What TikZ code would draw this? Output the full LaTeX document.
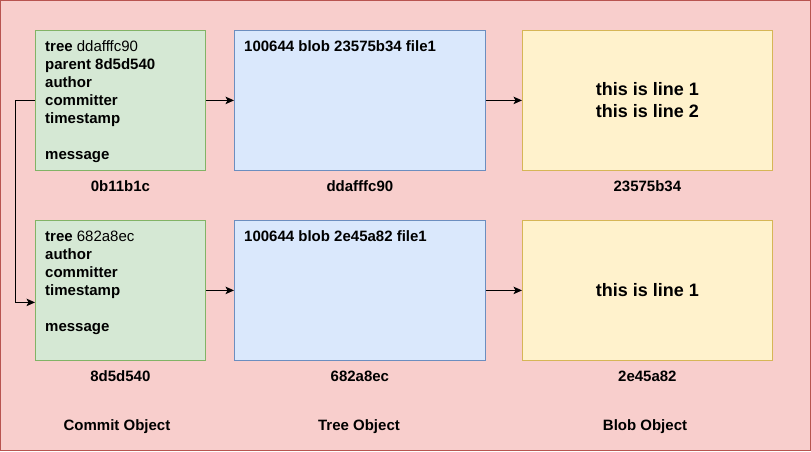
\documentclass[tikz,border=0pt]{standalone}
\usepackage{fontspec}
\setmainfont{Liberation Sans}
\usetikzlibrary{arrows.meta}
\definecolor{bgfill}{HTML}{F8CECC}
\definecolor{bgline}{HTML}{B85450}
\definecolor{commitfill}{HTML}{D5E8D4}
\definecolor{commitline}{HTML}{82B366}
\definecolor{treefill}{HTML}{DAE8FC}
\definecolor{treeline}{HTML}{6C8EBF}
\definecolor{blobfill}{HTML}{FFF2CC}
\definecolor{blobline}{HTML}{D6B656}
\begin{document}
\begin{tikzpicture}[x=1pt,y=-1pt,
    objbox/.style={draw,line width=0.8pt,anchor=north west,inner sep=0pt},
    commitbox/.style={objbox,fill=commitfill,draw=commitline,minimum width=170pt,minimum height=140pt},
    treebox/.style={objbox,fill=treefill,draw=treeline,minimum width=251pt,minimum height=140pt},
    blobbox/.style={objbox,fill=blobfill,draw=blobline,minimum width=250pt,minimum height=140pt},
    boxtext/.style={anchor=north west,inner sep=0pt,align=left,font=\fontsize{15}{18}\selectfont\bfseries},
    blobtext/.style={align=center,inner sep=0pt,font=\fontsize{18}{22}\selectfont\bfseries},
    idlabel/.style={anchor=base,inner sep=0pt,font=\fontsize{15}{18}\selectfont\bfseries},
    conn/.style={draw,line width=0.9pt,-{Stealth[length=8.5pt,width=7.5pt,inset=2pt]}}]
    \useasboundingbox (0,0) rectangle (811,451);
    \draw[fill=bgfill,draw=bgline,line width=1pt] (0.5,0.5) rectangle (810.5,450.5);
    % first commit row
    \node[commitbox] (c1) at (35,30) {};
    \node[treebox] (t1) at (234,30) {};
    \node[blobbox] (b1) at (522,30) {};
    \node[boxtext] at ([xshift=10pt,yshift=-10.5pt]c1.north west)
        {tree \mdseries ddafffc90\\parent 8d5d540\\author\\committer\\timestamp\\[18pt]message};
    \node[boxtext] at ([xshift=10pt,yshift=-10.5pt]t1.north west) {100644 blob 23575b34 file1};
    \node[blobtext] at (b1.center) {this is line 1\\this is line 2};
    % second commit row
    \node[commitbox] (c2) at (35,220) {};
    \node[treebox] (t2) at (234,220) {};
    \node[blobbox] (b2) at (522,220) {};
    \node[boxtext] at ([xshift=10pt,yshift=-10.5pt]c2.north west)
        {tree \mdseries 682a8ec\\author\\committer\\timestamp\\[18pt]message};
    \node[boxtext] at ([xshift=10pt,yshift=-10.5pt]t2.north west) {100644 blob 2e45a82 file1};
    \node[blobtext] at (b2.center) {this is line 1};
    % hashes
    \node[idlabel] (c1id) at ([yshift=-20.5pt]c1.south) {0b11b1c};
    \node[idlabel] (t1id) at ([yshift=-20.5pt]t1.south) {ddafffc90};
    \node[idlabel] (b1id) at ([yshift=-20.5pt]b1.south) {23575b34};
    \node[idlabel] (c2id) at ([yshift=-20.5pt]c2.south) {8d5d540};
    \node[idlabel] (t2id) at ([yshift=-20.5pt]t2.south) {682a8ec};
    \node[idlabel] (b2id) at ([yshift=-20.5pt]b2.south) {2e45a82};
    % connectors
    \draw[conn] (c1.east) -- (t1.west);
    \draw[conn] (t1.east) -- (b1.west);
    \draw[conn] (c2.east) -- (t2.west);
    \draw[conn] (t2.east) -- (b2.west);
    \draw[conn] (c1.west) -- ++(-20,0) |- ([yshift=-12pt]c2.west);
    % column titles
    \node[idlabel] (ctitle) at (117,430.5) {Commit Object};
    \node[idlabel] (ttitle) at (359,430.5) {Tree Object};
    \node[idlabel] (btitle) at (645,430.5) {Blob Object};
\end{tikzpicture}
\end{document}
